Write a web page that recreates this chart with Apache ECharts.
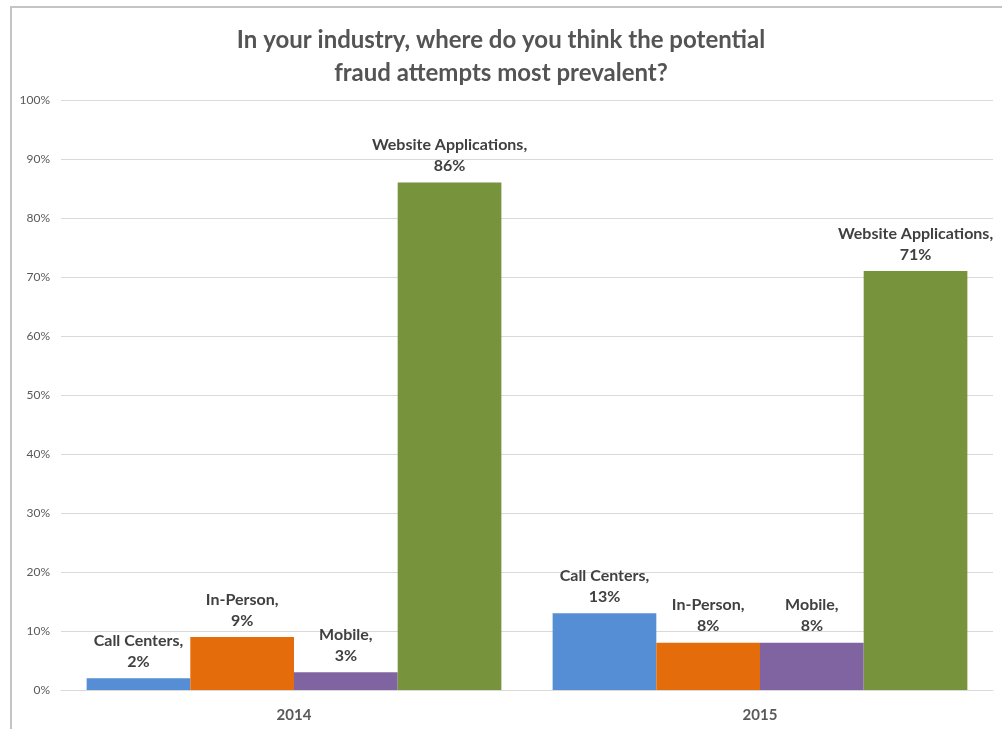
<!DOCTYPE html>
<html>
<head>
<meta charset="utf-8">
<script src="https://cdn.jsdelivr.net/npm/echarts@6/dist/echarts.min.js"></script>
<style>
  html, body { margin: 0; padding: 0; background: #fff; overflow: hidden; }
  #frame { position: absolute; left: 10px; top: 6px; width: 1100px; height: 800px;
           border-left: 2px solid #c4c4c4; border-top: 2px solid #c4c4c4; }
  #chart { position: absolute; left: 0; top: 0; width: 1002px; height: 729px; }
</style>
</head>
<body>
<div id="frame"></div>
<div id="chart"></div>
<script>
// Survey years (x categories)
const years = ['2014', '2015'];
// Channel names, one series each
const channels = ['Call Centers', 'In-Person', 'Mobile', 'Website Applications'];
// Share of respondents (%) per channel, by year
const callCenters = [2, 13];
const inPerson = [9, 8];
const mobile = [3, 8];
const websiteApps = [86, 71];
// Y axis ticks
const yMax = 100;
const yStep = 10;

const colors = ['#558ED5', '#E46C0A', '#8064A2', '#77933C'];
const values = [callCenters, inPerson, mobile, websiteApps];

const chart = echarts.init(document.getElementById('chart'));
chart.setOption({
  animation: false,
  title: {
    text: 'In your industry, where do you think the potential\nfraud attempts most prevalent?',
    left: 'center',
    top: 19,
    textStyle: {
      fontFamily: 'Lato',
      fontWeight: 'bold',
      fontSize: 24,
      lineHeight: 33,
      color: '#545454'
    }
  },
  grid: { left: 61, right: 9, top: 100, bottom: 39 },
  xAxis: {
    type: 'category',
    data: years,
    axisLine: { show: true, lineStyle: { color: '#d9d9d9', width: 1 } },
    axisTick: { show: false },
    axisLabel: {
      fontFamily: 'Lato', fontWeight: 'bold', fontSize: 15, color: '#595959', margin: 18
    }
  },
  yAxis: {
    type: 'value',
    min: 0,
    max: yMax,
    interval: yStep,
    axisLine: { show: false },
    axisTick: { show: false },
    splitLine: { lineStyle: { color: '#d9d9d9', width: 1 } },
    axisLabel: {
      formatter: '{value}%',
      fontFamily: 'Lato', fontSize: 12, color: '#595959', margin: 11
    }
  },
  series: channels.map((name, i) => ({
    name: name,
    type: 'bar',
    data: values[i],
    barGap: '0%',
    barCategoryGap: '11%',
    itemStyle: { color: colors[i] },
    label: {
      show: true,
      position: 'top',
      distance: 6,
      formatter: '{a},\n{c}%',
      fontFamily: 'Lato',
      fontWeight: 'bold',
      fontSize: 16,
      lineHeight: 21,
      color: '#404040',
      align: 'center'
    }
  }))
});
</script>
</body>
</html>
